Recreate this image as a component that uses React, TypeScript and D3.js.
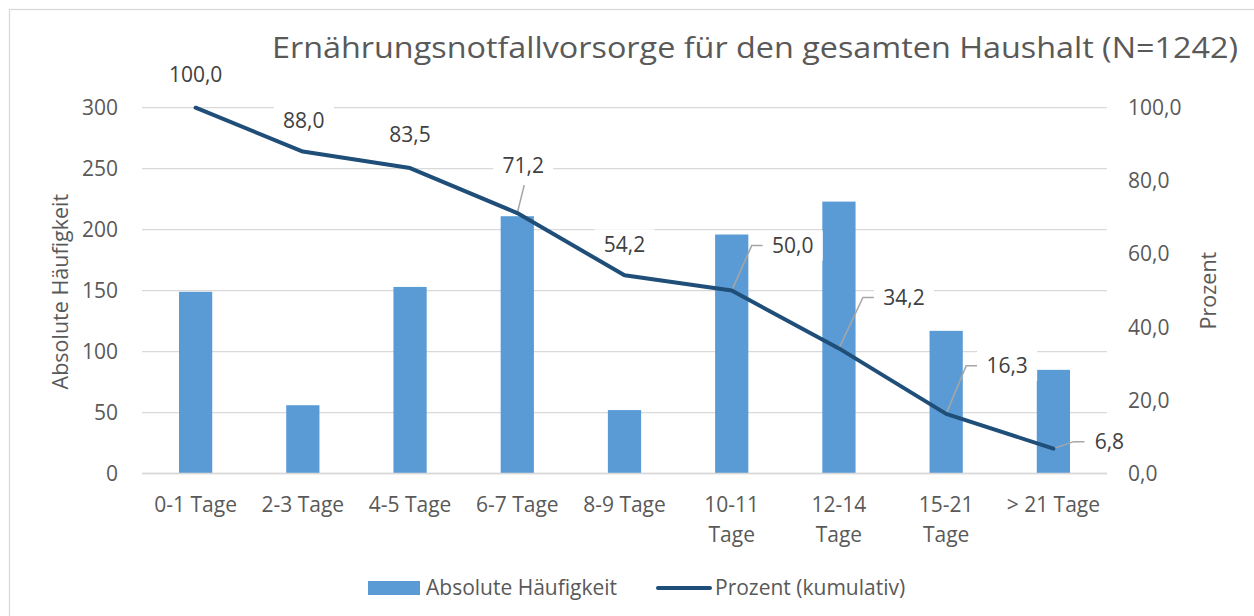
import React from "react";
import * as d3 from "d3";

const categories: string[][] = [
  ["0-1 Tage"], ["2-3 Tage"], ["4-5 Tage"], ["6-7 Tage"], ["8-9 Tage"],
  ["10-11", "Tage"], ["12-14", "Tage"], ["15-21", "Tage"], ["> 21 Tage"],
];
const counts: number[] = [149, 56, 153, 211, 52, 196, 223, 117, 85];
const percentCum: number[] = [100.0, 88.0, 83.5, 71.2, 54.2, 50.0, 34.2, 16.3, 6.8];
const leftTicks: number[] = [0, 50, 100, 150, 200, 250, 300];
const rightTicks: number[] = [0, 20, 40, 60, 80, 100];

// label layout: offset of label center from point, and whether a leader line is drawn
const labelLayout = [
  { dx: 0, dy: -33, leader: "none" },
  { dx: 1, dy: -31, leader: "none" },
  { dx: 0, dy: -33, leader: "none" },
  { dx: 6, dy: -47, leader: "below" },
  { dx: 0, dy: -31, leader: "none" },
  { dx: 61, dy: -45, leader: "side" },
  { dx: 65, dy: -51, leader: "side" },
  { dx: 61, dy: -48, leader: "side" },
  { dx: 56, dy: -7, leader: "side" },
];

const W = 1254;
const H = 616;
const M = { left: 142, right: 1107, top: 107.7, bottom: 473.5 };
const FONT = "'Open Sans', 'Liberation Sans', sans-serif";
const TXT = "#595959";
const LBL = "#404040";
const GRID = "#D9D9D9";
const BAR = "#5B9BD5";
const LINE = "#1F4E79";
const FS = 21;

const fmt = (v: number) => v.toFixed(1).replace(".", ",");

export default function App() {
  const x = d3.scaleBand<number>().domain(d3.range(categories.length)).range([M.left, M.right]).paddingInner(0).paddingOuter(0);
  const yL = d3.scaleLinear().domain([0, 300]).range([M.bottom, M.top]);
  const yR = d3.scaleLinear().domain([0, 100]).range([M.bottom, M.top]);
  const barW = x.bandwidth() * 0.31;
  const cx = (i: number) => (x(i) as number) + x.bandwidth() / 2;

  const line = d3.line<number>().x((_, i) => cx(i)).y((d) => yR(d));

  const labelW = (s: string) => s.length * 10.5;

  return (
    <svg width={W} height={H} style={{ position: "absolute", left: 0, top: 0, background: "#fff" }} fontFamily={FONT}>
      <rect x={0} y={0} width={W} height={H} fill="#fff" />
      <rect x={9.5} y={9.5} width={W + 20} height={H + 20} fill="#fff" stroke={GRID} strokeWidth={1.3} />
      <text x={272} y={58} fontSize={29} fill={TXT} textLength={966} lengthAdjust="spacingAndGlyphs">
        Ernährungsnotfallvorsorge für den gesamten Haushalt (N=1242)
      </text>

      {/* gridlines */}
      {leftTicks.map((t) => (
        <line key={"g" + t} x1={M.left} x2={M.right} y1={yL(t)} y2={yL(t)} stroke={GRID} strokeWidth={1.3} />
      ))}

      {/* left ticks */}
      {leftTicks.map((t) => (
        <text key={"l" + t} x={118} y={yL(t)} dy="0.35em" textAnchor="end" fontSize={FS} fill={TXT}>{t}</text>
      ))}
      {/* right ticks */}
      {rightTicks.map((t) => (
        <text key={"r" + t} x={1128} y={yR(t)} dy="0.35em" textAnchor="start" fontSize={FS} fill={TXT}>{fmt(t)}</text>
      ))}
      <text transform={`translate(60,${(M.top + M.bottom) / 2 + 1}) rotate(-90)`} textAnchor="middle" dy="0.35em" fontSize={21.5} fill={TXT}>Absolute Häufigkeit</text>
      <text transform={`translate(1208,${(M.top + M.bottom) / 2}) rotate(-90)`} textAnchor="middle" dy="0.35em" fontSize={21.5} fill={TXT}>Prozent</text>

      {/* bars */}
      {counts.map((c, i) => (
        <rect key={"b" + i} x={cx(i) - barW / 2} y={yL(c)} width={barW} height={yL(0) - yL(c)} fill={BAR} />
      ))}

      {/* x axis */}
      <line x1={M.left} x2={M.right} y1={M.bottom} y2={M.bottom} stroke={GRID} strokeWidth={1.3} />
      {categories.map((lines, i) => (
        <text key={"c" + i} x={cx(i)} y={505} textAnchor="middle" fontSize={FS} fill={TXT}>
          {lines.map((ln, j) => (
            <tspan key={j} x={cx(i)} dy={j === 0 ? "0.35em" : 30}>{ln}</tspan>
          ))}
        </text>
      ))}

      {/* leader lines */}
      {percentCum.map((p, i) => {
        const L = labelLayout[i];
        const px = cx(i), py = yR(p);
        const lx = px + L.dx, ly = py + L.dy;
        if (L.leader === "side") {
          const endX = lx - labelW(fmt(p)) / 2 - 9;
          const elbX = endX - 11;
          return <polyline key={"ld" + i} points={`${px},${py} ${elbX},${ly} ${endX},${ly}`} fill="none" stroke="#A6A6A6" strokeWidth={1.5} />;
        }
        if (L.leader === "below") {
          return <line key={"ld" + i} x1={px} y1={py} x2={lx + 1} y2={ly + 19} stroke="#A6A6A6" strokeWidth={1.5} />;
        }
        return null;
      })}

      {/* label boxes (white fill) */}
      {percentCum.map((p, i) => {
        const L = labelLayout[i];
        const lx = cx(i) + L.dx, ly = yR(p) + L.dy;
        const w = labelW(fmt(p)) + 18;
        if (i === 0) return null;
        return <rect key={"lb" + i} x={lx - w / 2} y={ly - 15} width={w} height={30} fill="#fff" />;
      })}

      {/* line */}
      <path d={line(percentCum) as string} fill="none" stroke={LINE} strokeWidth={4} strokeLinejoin="round" strokeLinecap="round" />

      {/* data labels */}
      {percentCum.map((p, i) => {
        const L = labelLayout[i];
        const lx = cx(i) + L.dx, ly = yR(p) + L.dy;
        return (
          <text key={"lt" + i} x={lx} y={ly} dy="0.35em" textAnchor="middle" fontSize={FS} fill={LBL}>{fmt(p)}</text>
        );
      })}

      {/* legend */}
      <rect x={368} y={581} width={52} height={14} fill={BAR} />
      <text x={426} y={588} dy="0.35em" fontSize={FS} fill={TXT}>Absolute Häufigkeit</text>
      <line x1={658} x2={710} y1={588} y2={588} stroke={LINE} strokeWidth={4} strokeLinecap="round" />
      <text x={715} y={588} dy="0.35em" fontSize={FS} fill={TXT}>Prozent (kumulativ)</text>
    </svg>
  );
}
